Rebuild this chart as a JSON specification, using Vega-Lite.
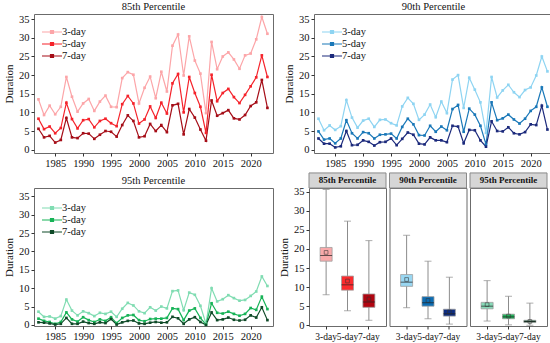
{
"$schema": "https://vega.github.io/schema/vega-lite/v6.json",
"padding": {"left": 3, "top": 1, "right": 3, "bottom": 1},
"config": {
 "font": "Liberation Serif",
 "view": {"stroke": "#6b6b6b", "strokeWidth": 1},
 "axis": {"domain": false, "grid": false, "tickSize": 3, "tickColor": "#333", "labelColor": "#111", "labelFontSize": 10.5, "titleFontSize": 11, "titleFontWeight": "normal", "titleColor": "#111", "labelFont": "Liberation Serif", "titleFont": "Liberation Serif", "labelPadding": 2},
 "title": {"fontSize": 10.5, "fontWeight": "normal", "font": "Liberation Serif", "offset": 2, "color": "#111"},
 "legend": {"title": null, "orient": "none", "legendX": 7, "legendY": 12, "padding": 0, "symbolType": "M-1,0H3M0.7,-0.3H1.3V0.3H0.7Z", "symbolSize": 100, "symbolStrokeWidth": 1.2, "labelFontSize": 10.5, "labelFont": "Liberation Serif", "labelColor": "#111", "labelOffset": 9, "rowPadding": -2.5}
},
"datasets": {
 "lines": [
{"p":"85","year":1982,"3-day":13.5,"5-day":8.3,"7-day":5.6},
{"p":"85","year":1983,"3-day":9.3,"5-day":5.5,"7-day":3.3},
{"p":"85","year":1984,"3-day":11.8,"5-day":6.2,"7-day":3.7},
{"p":"85","year":1985,"3-day":9.5,"5-day":4.4,"7-day":1.9},
{"p":"85","year":1986,"3-day":11.5,"5-day":5.8,"7-day":2.6},
{"p":"85","year":1987,"3-day":19.5,"5-day":12.6,"7-day":8.5},
{"p":"85","year":1988,"3-day":14.2,"5-day":8.2,"7-day":3.3},
{"p":"85","year":1989,"3-day":10.2,"5-day":5.7,"7-day":3.1},
{"p":"85","year":1990,"3-day":12.4,"5-day":7.9,"7-day":4.4},
{"p":"85","year":1991,"3-day":13.6,"5-day":8.2,"7-day":4.3},
{"p":"85","year":1992,"3-day":10.4,"5-day":6.0,"7-day":2.9},
{"p":"85","year":1993,"3-day":12.9,"5-day":7.7,"7-day":4.0},
{"p":"85","year":1994,"3-day":14.5,"5-day":8.3,"7-day":5.0},
{"p":"85","year":1995,"3-day":11.5,"5-day":7.1,"7-day":4.8},
{"p":"85","year":1996,"3-day":11.4,"5-day":6.3,"7-day":3.5},
{"p":"85","year":1997,"3-day":19.2,"5-day":12.2,"7-day":6.6},
{"p":"85","year":1998,"3-day":20.8,"5-day":14.4,"7-day":9.2},
{"p":"85","year":1999,"3-day":20.1,"5-day":12.4,"7-day":7.7},
{"p":"85","year":2000,"3-day":12.4,"5-day":7.0,"7-day":3.3},
{"p":"85","year":2001,"3-day":16.6,"5-day":8.1,"7-day":3.6},
{"p":"85","year":2002,"3-day":19.6,"5-day":11.6,"7-day":6.9},
{"p":"85","year":2003,"3-day":13.8,"5-day":8.5,"7-day":5.0},
{"p":"85","year":2004,"3-day":20.9,"5-day":12.6,"7-day":6.6},
{"p":"85","year":2005,"3-day":15.6,"5-day":9.7,"7-day":4.7},
{"p":"85","year":2006,"3-day":27.9,"5-day":17.8,"7-day":11.9},
{"p":"85","year":2007,"3-day":30.9,"5-day":20.3,"7-day":12.3},
{"p":"85","year":2008,"3-day":19.9,"5-day":10.0,"7-day":4.1},
{"p":"85","year":2009,"3-day":30.4,"5-day":19.5,"7-day":10.9},
{"p":"85","year":2010,"3-day":23.9,"5-day":15.2,"7-day":8.6},
{"p":"85","year":2011,"3-day":20.4,"5-day":11.5,"7-day":5.4},
{"p":"85","year":2012,"3-day":9.8,"5-day":4.5,"7-day":2.4},
{"p":"85","year":2013,"3-day":28.9,"5-day":20.1,"7-day":13.2},
{"p":"85","year":2014,"3-day":21.6,"5-day":13.0,"7-day":9.1},
{"p":"85","year":2015,"3-day":25.0,"5-day":15.2,"7-day":9.8},
{"p":"85","year":2016,"3-day":26.1,"5-day":16.3,"7-day":10.6},
{"p":"85","year":2017,"3-day":24.2,"5-day":14.1,"7-day":8.4},
{"p":"85","year":2018,"3-day":21.7,"5-day":12.5,"7-day":8.1},
{"p":"85","year":2019,"3-day":25.3,"5-day":14.7,"7-day":9.3},
{"p":"85","year":2020,"3-day":25.8,"5-day":17.0,"7-day":11.7},
{"p":"85","year":2021,"3-day":29.6,"5-day":19.4,"7-day":12.7},
{"p":"85","year":2022,"3-day":35.6,"5-day":25.3,"7-day":18.7},
{"p":"85","year":2023,"3-day":31.1,"5-day":19.5,"7-day":11.2},
{"p":"90","year":1982,"3-day":8.3,"5-day":4.9,"7-day":3.0},
{"p":"90","year":1983,"3-day":5.2,"5-day":2.7,"7-day":1.6},
{"p":"90","year":1984,"3-day":6.5,"5-day":3.0,"7-day":1.6},
{"p":"90","year":1985,"3-day":5.3,"5-day":1.7,"7-day":0.6},
{"p":"90","year":1986,"3-day":6.3,"5-day":3.0,"7-day":0.9},
{"p":"90","year":1987,"3-day":13.3,"5-day":7.9,"7-day":5.0},
{"p":"90","year":1988,"3-day":8.6,"5-day":4.4,"7-day":1.2},
{"p":"90","year":1989,"3-day":5.9,"5-day":3.0,"7-day":1.3},
{"p":"90","year":1990,"3-day":7.8,"5-day":4.7,"7-day":2.5},
{"p":"90","year":1991,"3-day":8.3,"5-day":4.4,"7-day":2.1},
{"p":"90","year":1992,"3-day":6.1,"5-day":3.0,"7-day":1.1},
{"p":"90","year":1993,"3-day":8.0,"5-day":4.0,"7-day":2.0},
{"p":"90","year":1994,"3-day":8.1,"5-day":4.1,"7-day":2.1},
{"p":"90","year":1995,"3-day":7.1,"5-day":4.3,"7-day":3.0},
{"p":"90","year":1996,"3-day":6.5,"5-day":3.0,"7-day":1.2},
{"p":"90","year":1997,"3-day":11.6,"5-day":6.1,"7-day":2.9},
{"p":"90","year":1998,"3-day":13.9,"5-day":8.3,"7-day":4.6},
{"p":"90","year":1999,"3-day":12.3,"5-day":6.8,"7-day":4.0},
{"p":"90","year":2000,"3-day":8.0,"5-day":3.9,"7-day":1.6},
{"p":"90","year":2001,"3-day":9.4,"5-day":3.8,"7-day":1.4},
{"p":"90","year":2002,"3-day":12.1,"5-day":6.4,"7-day":3.3},
{"p":"90","year":2003,"3-day":8.7,"5-day":4.8,"7-day":2.5},
{"p":"90","year":2004,"3-day":12.9,"5-day":6.2,"7-day":2.5},
{"p":"90","year":2005,"3-day":9.8,"5-day":5.2,"7-day":2.0},
{"p":"90","year":2006,"3-day":18.8,"5-day":10.9,"7-day":6.4},
{"p":"90","year":2007,"3-day":20.0,"5-day":12.0,"7-day":6.2},
{"p":"90","year":2008,"3-day":11.2,"5-day":4.8,"7-day":1.7},
{"p":"90","year":2009,"3-day":19.3,"5-day":11.0,"7-day":5.3},
{"p":"90","year":2010,"3-day":16.1,"5-day":9.4,"7-day":5.2},
{"p":"90","year":2011,"3-day":12.7,"5-day":6.4,"7-day":2.5},
{"p":"90","year":2012,"3-day":4.5,"5-day":1.4,"7-day":0.8},
{"p":"90","year":2013,"3-day":19.5,"5-day":12.7,"7-day":7.6},
{"p":"90","year":2014,"3-day":14.0,"5-day":7.9,"7-day":5.0},
{"p":"90","year":2015,"3-day":15.9,"5-day":8.4,"7-day":4.9},
{"p":"90","year":2016,"3-day":17.4,"5-day":9.4,"7-day":6.0},
{"p":"90","year":2017,"3-day":15.4,"5-day":8.1,"7-day":4.4},
{"p":"90","year":2018,"3-day":14.1,"5-day":7.0,"7-day":4.1},
{"p":"90","year":2019,"3-day":16.0,"5-day":8.3,"7-day":4.7},
{"p":"90","year":2020,"3-day":16.7,"5-day":10.4,"7-day":6.8},
{"p":"90","year":2021,"3-day":19.9,"5-day":11.5,"7-day":6.6},
{"p":"90","year":2022,"3-day":25.0,"5-day":16.7,"7-day":11.8},
{"p":"90","year":2023,"3-day":21.0,"5-day":11.5,"7-day":5.4},
{"p":"95","year":1982,"3-day":3.6,"5-day":1.7,"7-day":0.7},
{"p":"95","year":1983,"3-day":2.2,"5-day":1.1,"7-day":0.6},
{"p":"95","year":1984,"3-day":2.3,"5-day":0.8,"7-day":0.4},
{"p":"95","year":1985,"3-day":1.7,"5-day":0.3,"7-day":0.1},
{"p":"95","year":1986,"3-day":2.4,"5-day":0.8,"7-day":0.3},
{"p":"95","year":1987,"3-day":6.9,"5-day":3.4,"7-day":1.9},
{"p":"95","year":1988,"3-day":3.9,"5-day":1.5,"7-day":0.3},
{"p":"95","year":1989,"3-day":2.6,"5-day":0.9,"7-day":0.3},
{"p":"95","year":1990,"3-day":3.7,"5-day":2.1,"7-day":0.9},
{"p":"95","year":1991,"3-day":3.2,"5-day":1.3,"7-day":0.5},
{"p":"95","year":1992,"3-day":2.4,"5-day":0.8,"7-day":0.3},
{"p":"95","year":1993,"3-day":3.3,"5-day":1.5,"7-day":0.7},
{"p":"95","year":1994,"3-day":3.0,"5-day":1.1,"7-day":0.5},
{"p":"95","year":1995,"3-day":3.6,"5-day":2.1,"7-day":1.6},
{"p":"95","year":1996,"3-day":2.2,"5-day":0.5,"7-day":0.1},
{"p":"95","year":1997,"3-day":4.4,"5-day":1.9,"7-day":0.7},
{"p":"95","year":1998,"3-day":6.0,"5-day":2.6,"7-day":1.1},
{"p":"95","year":1999,"3-day":5.3,"5-day":2.7,"7-day":1.2},
{"p":"95","year":2000,"3-day":3.7,"5-day":1.3,"7-day":0.4},
{"p":"95","year":2001,"3-day":3.2,"5-day":1.0,"7-day":0.3},
{"p":"95","year":2002,"3-day":4.8,"5-day":1.6,"7-day":0.6},
{"p":"95","year":2003,"3-day":3.9,"5-day":1.7,"7-day":0.8},
{"p":"95","year":2004,"3-day":5.0,"5-day":1.7,"7-day":0.6},
{"p":"95","year":2005,"3-day":4.5,"5-day":1.9,"7-day":0.7},
{"p":"95","year":2006,"3-day":9.2,"5-day":4.5,"7-day":2.2},
{"p":"95","year":2007,"3-day":9.4,"5-day":4.3,"7-day":1.8},
{"p":"95","year":2008,"3-day":4.0,"5-day":1.3,"7-day":0.3},
{"p":"95","year":2009,"3-day":8.8,"5-day":3.9,"7-day":1.5},
{"p":"95","year":2010,"3-day":8.2,"5-day":4.5,"7-day":2.1},
{"p":"95","year":2011,"3-day":5.2,"5-day":1.9,"7-day":0.8},
{"p":"95","year":2012,"3-day":0.3,"5-day":0.1,"7-day":0.0},
{"p":"95","year":2013,"3-day":10.0,"5-day":5.9,"7-day":3.4},
{"p":"95","year":2014,"3-day":6.4,"5-day":3.3,"7-day":1.3},
{"p":"95","year":2015,"3-day":7.0,"5-day":3.1,"7-day":1.5},
{"p":"95","year":2016,"3-day":8.1,"5-day":3.6,"7-day":2.0},
{"p":"95","year":2017,"3-day":7.3,"5-day":3.0,"7-day":1.4},
{"p":"95","year":2018,"3-day":6.6,"5-day":2.5,"7-day":1.2},
{"p":"95","year":2019,"3-day":6.8,"5-day":3.0,"7-day":1.4},
{"p":"95","year":2020,"3-day":7.9,"5-day":4.6,"7-day":2.6},
{"p":"95","year":2021,"3-day":9.1,"5-day":4.1,"7-day":2.0},
{"p":"95","year":2022,"3-day":13.2,"5-day":7.7,"7-day":4.8},
{"p":"95","year":2023,"3-day":10.6,"5-day":4.3,"7-day":1.3}
 ],
 "box": [
{"p":"85","d":"3-day","lo":8.0,"q1":16.8,"med":18.3,"q3":20.4,"hi":35.6,"mean":19.1},
{"p":"85","d":"5-day","lo":3.8,"q1":9.2,"med":10.6,"q3":12.9,"hi":27.3,"mean":11.6},
{"p":"85","d":"7-day","lo":1.3,"q1":4.7,"med":6.1,"q3":8.2,"hi":22.2,"mean":6.9},
{"p":"90","d":"3-day","lo":4.6,"q1":10.2,"med":11.3,"q3":13.3,"hi":23.6,"mean":12.0},
{"p":"90","d":"5-day","lo":1.7,"q1":5.0,"med":5.9,"q3":7.5,"hi":16.8,"mean":6.5},
{"p":"90","d":"7-day","lo":0.3,"q1":2.4,"med":3.0,"q3":4.2,"hi":12.6,"mean":3.5},
{"p":"95","d":"3-day","lo":1.1,"q1":4.3,"med":5.0,"q3":6.0,"hi":11.7,"mean":5.4},
{"p":"95","d":"5-day","lo":0.1,"q1":1.7,"med":2.2,"q3":2.9,"hi":7.6,"mean":2.4},
{"p":"95","d":"7-day","lo":0.0,"q1":0.7,"med":1.0,"q3":1.3,"hi":5.8,"mean":1.0}
 ],
 "heads": [
{"p":"85","t":"85th Percentile"},
{"p":"90","t":"90th Percentile"},
{"p":"95","t":"95th Percentile"}
 ]
},
"spacing": 2,
"resolve": {"scale": {"color": "independent"}, "legend": {"color": "independent"}},
"vconcat": [
 {
  "spacing": 9,
  "resolve": {"scale": {"color": "independent"}, "legend": {"color": "independent"}},
  "hconcat": [
   {
    "width": 239, "height": 139,
    "title": {"text": "85th Percentile", "fontWeight": "normal"},
    "data": {"name": "lines"},
    "transform": [{"filter": "datum.p == '85'"}, {"fold": ["3-day", "5-day", "7-day"], "as": ["dur", "v"]}],
    "mark": {"type": "line", "strokeWidth": 1.2, "point": {"shape": "square", "size": 7, "filled": true}},
    "encoding": {
     "x": {"field": "year", "type": "quantitative", "scale": {"domain": [1981.2, 2024], "nice": false, "zero": false}, "axis": {"values": [1985, 1990, 1995, 2000, 2005, 2010, 2015, 2020], "format": "d", "title": null}},
     "y": {"field": "v", "type": "quantitative", "scale": {"domain": [-0.9, 36.4], "nice": false, "zero": false}, "axis": {"values": [0, 5, 10, 15, 20, 25, 30, 35], "title": "Duration"}},
     "color": {"field": "dur", "type": "nominal", "scale": {"domain": ["3-day", "5-day", "7-day"], "range": ["#fca5a8", "#f5232b", "#a50d17"]}}
    }
   },
   {
    "width": 239, "height": 139,
    "title": {"text": "90th Percentile", "fontWeight": "normal"},
    "data": {"name": "lines"},
    "transform": [{"filter": "datum.p == '90'"}, {"fold": ["3-day", "5-day", "7-day"], "as": ["dur", "v"]}],
    "mark": {"type": "line", "strokeWidth": 1.2, "point": {"shape": "square", "size": 7, "filled": true}},
    "encoding": {
     "x": {"field": "year", "type": "quantitative", "scale": {"domain": [1981.2, 2024], "nice": false, "zero": false}, "axis": {"values": [1985, 1990, 1995, 2000, 2005, 2010, 2015, 2020], "format": "d", "title": null}},
     "y": {"field": "v", "type": "quantitative", "scale": {"domain": [-0.9, 36.4], "nice": false, "zero": false}, "axis": {"values": [0, 5, 10, 15, 20, 25, 30, 35], "title": "Duration"}},
     "color": {"field": "dur", "type": "nominal", "scale": {"domain": ["3-day", "5-day", "7-day"], "range": ["#8ed4f2", "#1a78b8", "#1c2a7c"]}}
    }
   }
  ]
 },
 {
  "spacing": 4,
  "resolve": {"scale": {"color": "independent"}, "legend": {"color": "independent"}},
  "hconcat": [
   {
    "width": 239, "height": 138,
    "title": {"text": "95th Percentile", "fontWeight": "normal"},
    "data": {"name": "lines"},
    "transform": [{"filter": "datum.p == '95'"}, {"fold": ["3-day", "5-day", "7-day"], "as": ["dur", "v"]}],
    "mark": {"type": "line", "strokeWidth": 1.2, "point": {"shape": "square", "size": 7, "filled": true}},
    "encoding": {
     "x": {"field": "year", "type": "quantitative", "scale": {"domain": [1981.2, 2024], "nice": false, "zero": false}, "axis": {"values": [1985, 1990, 1995, 2000, 2005, 2010, 2015, 2020], "format": "d", "title": null}},
     "y": {"field": "v", "type": "quantitative", "scale": {"domain": [-0.3, 37.3], "nice": false, "zero": false}, "axis": {"values": [0, 5, 10, 15, 20, 25, 30, 35], "title": "Duration"}},
     "color": {"field": "dur", "type": "nominal", "scale": {"domain": ["3-day", "5-day", "7-day"], "range": ["#80dcb2", "#17b357", "#0f4a28"]}, "legend": {"legendY": 14}}
    }
   },
   {
    "spacing": 1.5,
    "resolve": {"scale": {"color": "independent"}, "legend": {"color": "independent"}},
    "hconcat": [
     {
      "width": 77, "height": 138,
      "layer": [
       {
        "data": {"name": "box"},
        "transform": [{"filter": "datum.p == '85'"}],
        "encoding": {
         "x": {"field": "d", "type": "nominal", "scale": {"domain": ["3-day", "5-day", "7-day"], "paddingInner": 0, "paddingOuter": 0.3}, "axis": {"title": null, "labelAngle": 0, "labelOverlap": false, "labelBound": false, "labelFontSize": 9.5}}
        },
        "layer": [
         {"mark": {"type": "rule", "color": "#8c8c8c", "strokeWidth": 1}, "encoding": {"y": {"field": "lo", "type": "quantitative", "scale": {"domain": [-0.2, 36.0], "nice": false, "zero": false}, "axis": {"values": [0, 5, 10, 15, 20, 25, 30, 35], "title": "Duration"}}, "y2": {"field": "hi"}}},
         {"mark": {"type": "tick", "color": "#8c8c8c", "size": 7, "thickness": 1}, "encoding": {"y": {"field": "lo", "type": "quantitative", "axis": {"values": [0, 5, 10, 15, 20, 25, 30, 35], "title": "Duration"}}}},
         {"mark": {"type": "tick", "color": "#8c8c8c", "size": 7, "thickness": 1}, "encoding": {"y": {"field": "hi", "type": "quantitative", "axis": {"values": [0, 5, 10, 15, 20, 25, 30, 35], "title": "Duration"}}}},
         {"mark": {"type": "bar", "size": 12, "stroke": "#a0a0a0", "strokeWidth": 0.8}, "encoding": {"y": {"field": "q1", "type": "quantitative", "axis": {"values": [0, 5, 10, 15, 20, 25, 30, 35], "title": "Duration"}}, "y2": {"field": "q3"}, "color": {"field": "d", "type": "nominal", "scale": {"domain": ["3-day", "5-day", "7-day"], "range": ["#f9a9aa", "#fb2b2e", "#b10510"]}, "legend": null}}},
         {"mark": {"type": "tick", "color": "#222", "size": 12, "thickness": 1}, "encoding": {"y": {"field": "med", "type": "quantitative", "axis": {"values": [0, 5, 10, 15, 20, 25, 30, 35], "title": "Duration"}}}},
         {"mark": {"type": "point", "shape": "square", "filled": false, "size": 14, "color": "#333", "strokeWidth": 0.8}, "encoding": {"y": {"field": "mean", "type": "quantitative", "axis": {"values": [0, 5, 10, 15, 20, 25, 30, 35], "title": "Duration"}}}}
        ]
       },
       {
        "data": {"name": "heads"},
        "transform": [{"filter": "datum.p == '85'"}],
        "layer": [
         {"mark": {"type": "rect", "fill": "#d6d6d6", "stroke": "#8a8a8a", "strokeWidth": 1}, "encoding": {"y": {"datum": 36.0, "type": "quantitative", "axis": {"values": [0, 5, 10, 15, 20, 25, 30, 35], "title": "Duration"}}, "y2": {"datum": 39.95}}},
         {"mark": {"type": "text", "fontWeight": "bold", "fontSize": 9, "color": "#111", "baseline": "middle"}, "encoding": {"y": {"datum": 37.97, "type": "quantitative", "axis": {"values": [0, 5, 10, 15, 20, 25, 30, 35], "title": "Duration"}}, "text": {"field": "t"}}}
        ]
       }
      ]
     },
     {
      "width": 77, "height": 138,
      "layer": [
       {
        "data": {"name": "box"},
        "transform": [{"filter": "datum.p == '90'"}],
        "encoding": {
         "x": {"field": "d", "type": "nominal", "scale": {"domain": ["3-day", "5-day", "7-day"], "paddingInner": 0, "paddingOuter": 0.3}, "axis": {"title": null, "labelAngle": 0, "labelOverlap": false, "labelBound": false, "labelFontSize": 9.5}}
        },
        "layer": [
         {"mark": {"type": "rule", "color": "#8c8c8c", "strokeWidth": 1}, "encoding": {"y": {"field": "lo", "type": "quantitative", "scale": {"domain": [-0.2, 36.0], "nice": false, "zero": false}, "axis": null}, "y2": {"field": "hi"}}},
         {"mark": {"type": "tick", "color": "#8c8c8c", "size": 7, "thickness": 1}, "encoding": {"y": {"field": "lo", "type": "quantitative", "axis": null}}},
         {"mark": {"type": "tick", "color": "#8c8c8c", "size": 7, "thickness": 1}, "encoding": {"y": {"field": "hi", "type": "quantitative", "axis": null}}},
         {"mark": {"type": "bar", "size": 12, "stroke": "#a0a0a0", "strokeWidth": 0.8}, "encoding": {"y": {"field": "q1", "type": "quantitative", "axis": null}, "y2": {"field": "q3"}, "color": {"field": "d", "type": "nominal", "scale": {"domain": ["3-day", "5-day", "7-day"], "range": ["#99d7f2", "#0c6db4", "#0d2c80"]}, "legend": null}}},
         {"mark": {"type": "tick", "color": "#222", "size": 12, "thickness": 1}, "encoding": {"y": {"field": "med", "type": "quantitative", "axis": null}}},
         {"mark": {"type": "point", "shape": "square", "filled": false, "size": 14, "color": "#333", "strokeWidth": 0.8}, "encoding": {"y": {"field": "mean", "type": "quantitative", "axis": null}}}
        ]
       },
       {
        "data": {"name": "heads"},
        "transform": [{"filter": "datum.p == '90'"}],
        "layer": [
         {"mark": {"type": "rect", "fill": "#d6d6d6", "stroke": "#8a8a8a", "strokeWidth": 1}, "encoding": {"y": {"datum": 36.0, "type": "quantitative", "axis": null}, "y2": {"datum": 39.95}}},
         {"mark": {"type": "text", "fontWeight": "bold", "fontSize": 9, "color": "#111", "baseline": "middle"}, "encoding": {"y": {"datum": 37.97, "type": "quantitative", "axis": null}, "text": {"field": "t"}}}
        ]
       }
      ]
     },
     {
      "width": 77, "height": 138,
      "layer": [
       {
        "data": {"name": "box"},
        "transform": [{"filter": "datum.p == '95'"}],
        "encoding": {
         "x": {"field": "d", "type": "nominal", "scale": {"domain": ["3-day", "5-day", "7-day"], "paddingInner": 0, "paddingOuter": 0.3}, "axis": {"title": null, "labelAngle": 0, "labelOverlap": false, "labelBound": false, "labelFontSize": 9.5}}
        },
        "layer": [
         {"mark": {"type": "rule", "color": "#8c8c8c", "strokeWidth": 1}, "encoding": {"y": {"field": "lo", "type": "quantitative", "scale": {"domain": [-0.2, 36.0], "nice": false, "zero": false}, "axis": null}, "y2": {"field": "hi"}}},
         {"mark": {"type": "tick", "color": "#8c8c8c", "size": 7, "thickness": 1}, "encoding": {"y": {"field": "lo", "type": "quantitative", "axis": null}}},
         {"mark": {"type": "tick", "color": "#8c8c8c", "size": 7, "thickness": 1}, "encoding": {"y": {"field": "hi", "type": "quantitative", "axis": null}}},
         {"mark": {"type": "bar", "size": 12, "stroke": "#a0a0a0", "strokeWidth": 0.8}, "encoding": {"y": {"field": "q1", "type": "quantitative", "axis": null}, "y2": {"field": "q3"}, "color": {"field": "d", "type": "nominal", "scale": {"domain": ["3-day", "5-day", "7-day"], "range": ["#87dab8", "#22b25a", "#0b5a2f"]}, "legend": null}}},
         {"mark": {"type": "tick", "color": "#222", "size": 12, "thickness": 1}, "encoding": {"y": {"field": "med", "type": "quantitative", "axis": null}}},
         {"mark": {"type": "point", "shape": "square", "filled": false, "size": 14, "color": "#333", "strokeWidth": 0.8}, "encoding": {"y": {"field": "mean", "type": "quantitative", "axis": null}}}
        ]
       },
       {
        "data": {"name": "heads"},
        "transform": [{"filter": "datum.p == '95'"}],
        "layer": [
         {"mark": {"type": "rect", "fill": "#d6d6d6", "stroke": "#8a8a8a", "strokeWidth": 1}, "encoding": {"y": {"datum": 36.0, "type": "quantitative", "axis": null}, "y2": {"datum": 39.95}}},
         {"mark": {"type": "text", "fontWeight": "bold", "fontSize": 9, "color": "#111", "baseline": "middle"}, "encoding": {"y": {"datum": 37.97, "type": "quantitative", "axis": null}, "text": {"field": "t"}}}
        ]
       }
      ]
     }
    ]
   }
  ]
 }
]
}
